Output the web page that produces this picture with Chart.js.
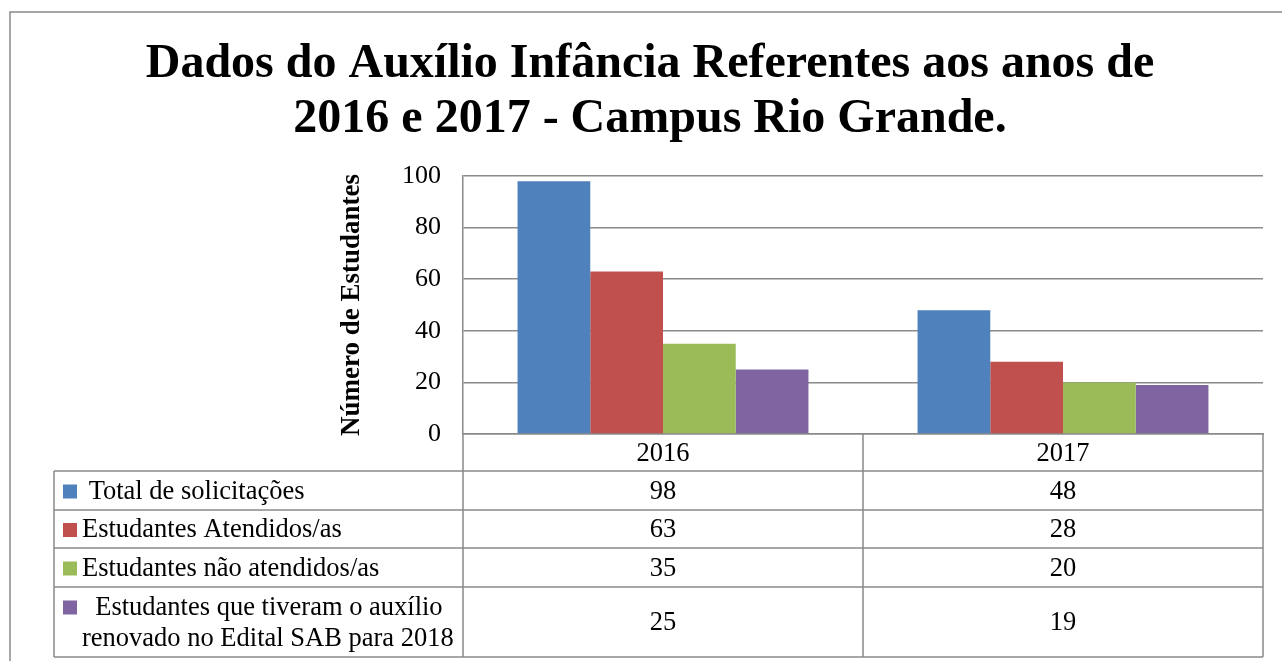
<!DOCTYPE html>
<html><head><meta charset="utf-8">
<script src="https://cdn.jsdelivr.net/npm/chart.js@4"></script>
<style>html,body{margin:0;padding:0;background:#fff;overflow:hidden}</style>
</head><body><canvas id="c" width="1282" height="661"></canvas>
<script>
const titleLines = ["Dados do Auxílio Infância Referentes aos anos de", "2016 e 2017 - Campus Rio Grande."];
const categories = ["2016", "2017"];
const seriesLabels = [[" Total de solicitações"], ["Estudantes Atendidos/as"], ["Estudantes não atendidos/as"], ["  Estudantes que tiveram o auxílio", "renovado no Edital SAB para 2018"]];
const totalSolicitacoes = [98, 48];
const estudantesAtendidos = [63, 28];
const estudantesNaoAtendidos = [35, 20];
const auxilioRenovado = [25, 19];
const yAxisTitle = "Número de Estudantes";
const yMin = 0, yMax = 100, yStep = 20;
const seriesColors = ['#4F81BD', '#C0504D', '#9BBB59', '#8064A2'];

const seriesValues = [totalSolicitacoes, estudantesAtendidos, estudantesNaoAtendidos, auxilioRenovado];
const SERIF = '"Liberation Serif", "Times New Roman", serif';
const GRID = '#8a8a8a';

const decor = {
  id: 'decor',
  afterDraw(chart) {
    const ctx = chart.ctx;
    const xs = chart.scales.x;
    const area = chart.chartArea;
    ctx.save();
    // outer frame
    ctx.strokeStyle = GRID; ctx.lineWidth = 1.5;
    ctx.strokeRect(10, 12, 1400, 800);
    // title
    ctx.fillStyle = '#000';
    ctx.font = 'bold 48px ' + SERIF;
    ctx.textAlign = 'center'; ctx.textBaseline = 'alphabetic';
    ctx.fillText(titleLines[0], 650, 77);
    ctx.fillText(titleLines[1], 650, 132);

    // data table
    const tableLeft = 54;
    const rowEdges = [area.bottom, 471, 510, 548, 587, 657];
    const n = categories.length;
    const catW = (area.right - area.left) / n;
    ctx.strokeStyle = GRID; ctx.lineWidth = 1.5;
    ctx.beginPath();
    for (let r = 1; r < rowEdges.length; r++) {
      ctx.moveTo(tableLeft, rowEdges[r]); ctx.lineTo(area.right, rowEdges[r]);
    }
    ctx.moveTo(tableLeft, rowEdges[1]); ctx.lineTo(tableLeft, rowEdges[rowEdges.length - 1]);
    for (let i = 0; i <= n; i++) {
      const x = area.left + i * catW;
      ctx.moveTo(x, area.bottom); ctx.lineTo(x, rowEdges[rowEdges.length - 1]);
    }
    ctx.stroke();

    ctx.font = '26.5px ' + SERIF;
    ctx.fillStyle = '#000';
    ctx.textAlign = 'center';
    categories.forEach((c, i) => {
      const cx = xs.getPixelForValue(i);
      const cy = (rowEdges[0] + rowEdges[1]) / 2;
      ctx.fillText(c, cx, cy + 8.5);
    });
    chart.data.datasets.forEach((ds, d) => {
      const top = rowEdges[d + 1], bot = rowEdges[d + 2];
      const cy = (top + bot) / 2;
      ds.data.forEach((v, i) => {
        ctx.textAlign = 'center';
        ctx.fillStyle = '#000';
        ctx.fillText(String(v), xs.getPixelForValue(i), cy + 8);
      });
      const lines = seriesLabels[d];
      const lh = 31;
      const firstBase = cy + 8 - (lines.length - 1) * lh / 2;
      ctx.fillStyle = ds.backgroundColor;
      ctx.fillRect(63, firstBase - 14, 14, 14);
      ctx.fillStyle = '#000';
      ctx.textAlign = 'left';
      lines.forEach((t, k) => ctx.fillText(t, 82, firstBase + k * lh));
    });
    ctx.restore();
  }
};

new Chart(document.getElementById('c'), {
  type: 'bar',
  data: {
    labels: categories,
    datasets: seriesValues.map((vals, i) => ({
      label: seriesLabels[i].join(' ').trim(),
      data: vals,
      backgroundColor: seriesColors[i],
      borderWidth: 0,
      categoryPercentage: 4 / 5.5,
      barPercentage: 1
    }))
  },
  options: {
    responsive: false,
    animation: false,
    devicePixelRatio: 1,
    layout: { padding: { left: 300, right: 19, top: 176, bottom: 227 } },
    plugins: { legend: { display: false }, title: { display: false }, tooltip: { enabled: false } },
    scales: {
      x: {
        grid: { display: false, drawTicks: false },
        ticks: { display: false },
        border: { display: true, color: GRID, width: 1.5 },
        afterFit: s => { s.height = 0; }
      },
      y: {
        min: yMin, max: yMax,
        ticks: { stepSize: yStep, color: '#000', font: { family: SERIF, size: 26 }, padding: 22 },
        grid: { color: GRID, lineWidth: 1.5, drawTicks: false },
        border: { display: true, color: GRID, width: 1.5 },
        title: { display: true, text: yAxisTitle, color: '#000', font: { family: SERIF, size: 27, weight: 'bold' }, padding: { top: 36, bottom: 0 } },
        afterFit: s => { s.width = 163; }
      }
    }
  },
  plugins: [decor]
});
</script>
</body></html>
